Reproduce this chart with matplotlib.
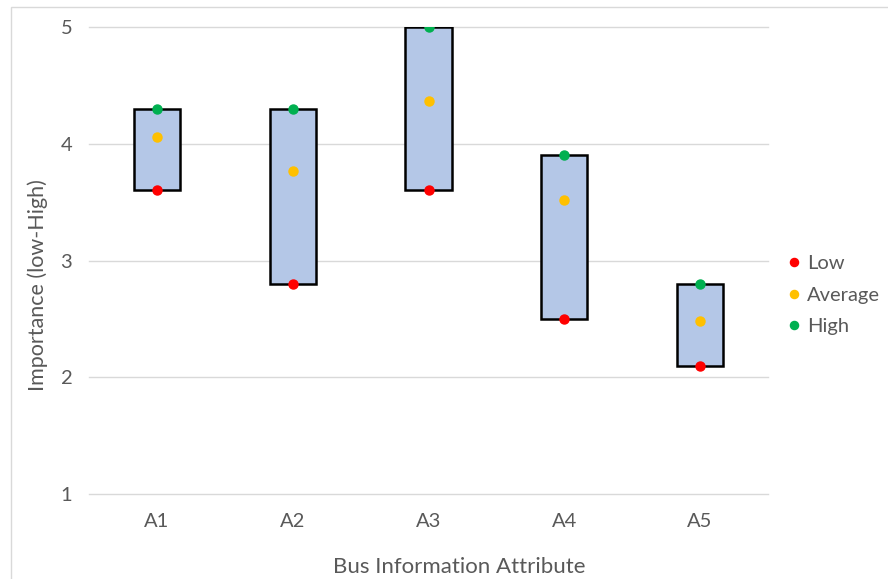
import matplotlib
matplotlib.use('Agg')
import matplotlib.pyplot as plt
from matplotlib.patches import Rectangle

# Importance ratings per bus information attribute
attributes = ['A1', 'A2', 'A3', 'A4', 'A5']
low = [3.6, 2.8, 3.6, 2.5, 2.1]
average = [4.06, 3.77, 4.37, 3.52, 2.48]
high = [4.3, 4.3, 5.0, 3.9, 2.8]

plt.rcParams['font.family'] = ['Lato', 'DejaVu Sans']
text_color = '#595959'

fig = plt.figure(figsize=(8.88, 5.79), dpi=100)
# plot area runs from the "1" gridline up to the "5" gridline
ax = fig.add_axes([89 / 888, 1 - 494 / 579, (768 - 89) / 888, (494 - 27) / 579])

ax.set_ylim(1, 5)
ax.set_xlim(-0.5, len(attributes) - 0.5)

box_w = 0.34
for i in range(len(attributes)):
    ax.add_patch(Rectangle((i - box_w / 2, low[i]), box_w, high[i] - low[i],
                           facecolor='#B4C7E7', edgecolor='black', lw=1.8, zorder=3))

x = list(range(len(attributes)))
ax.plot(x, low, 'o', color='#FF0000', ms=6.5, label='Low', zorder=4)
ax.plot(x, average, 'o', color='#FFC000', ms=6.5, label='Average', zorder=4)
ax.plot(x, high, 'o', color='#00B050', ms=6.5, label='High', zorder=4)

ax.set_yticks([1, 2, 3, 4, 5])
ax.set_xticks(x)
ax.set_xticklabels(attributes)
ax.yaxis.grid(True, color='#D9D9D9', lw=1)
for line in ax.get_ygridlines():
    line.set_clip_on(False)
ax.set_axisbelow(True)
for s in ax.spines.values():
    s.set_visible(False)
ax.tick_params(length=0, colors=text_color, labelsize=14.5)
ax.tick_params(axis='y', pad=12)
ax.tick_params(axis='x', pad=14)

ax.set_xlabel('Bus Information Attribute', fontsize=16, color=text_color)
ax.xaxis.set_label_coords(0.545, -0.135)
ax.set_ylabel('Importance (low-High)', fontsize=15.5, color=text_color)
ax.yaxis.set_label_coords(-0.061, 0.448)

leg = ax.legend(loc='center left', bbox_to_anchor=(1.0, 0.426), frameon=False,
                fontsize=14.5, handletextpad=0.05, labelspacing=0.72, markerscale=0.9,
                handlelength=1.2, borderaxespad=0.3)
for t in leg.get_texts():
    t.set_color(text_color)

# chart frame
fig.patches.append(Rectangle((11 / 888, -0.1), 1.2, 1 - 7 / 579 + 0.1,
                             transform=fig.transFigure, fill=False,
                             edgecolor='#D9D9D9', lw=1))

fig.savefig('out.png', dpi=100)
